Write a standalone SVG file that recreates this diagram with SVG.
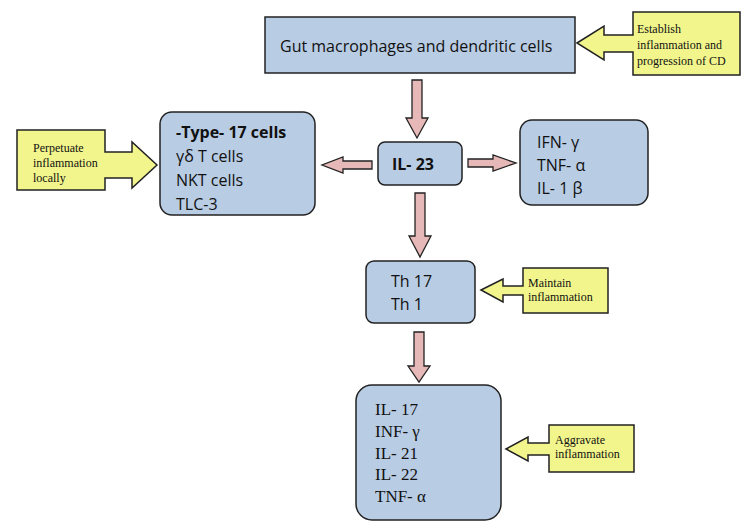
<svg xmlns="http://www.w3.org/2000/svg" width="750" height="532" viewBox="0 0 750 532">
<style>
.b{fill:#b8cce4;stroke:#222;stroke-width:1.5}
.y{fill:#f2f58c;stroke:#222;stroke-width:1.5}
.a{fill:#e6b8b7;stroke:#222;stroke-width:1.3}
.s{font-family:"Open Sans","Liberation Sans",sans-serif;font-size:16px;fill:#111}
.r{font-family:"Liberation Serif",serif;font-size:12px;fill:#111}
.rb{font-family:"Liberation Serif",serif;font-size:17px;fill:#111}
</style>
<rect width="750" height="532" fill="#fff"/>
<g id="gut"><rect class="b" x="265" y="17" width="310" height="56"/><text class="s" x="280" y="52">Gut macrophages and dendritic cells</text></g>
<g id="establish"><path class="y" d="M577,43 L604,26 L604,35 L633,35 L633,12 L740,12 L740,75 L633,75 L633,52 L604,52 L604,60 Z"/><text class="r" x="637" y="33">Establish</text><text class="r" x="637" y="49">inflammation and</text><text class="r" x="637" y="65">progression of CD</text></g>
<g id="type17"><rect class="b" x="160" y="112" width="155" height="103" rx="12"/><text class="s" x="176" y="138" font-weight="bold">-Type- 17 cells</text><text class="s" x="176" y="162">γδ T cells</text><text class="s" x="176" y="186">NKT cells</text><text class="s" x="176" y="210">TLC-3</text></g>
<g id="perpetuate"><path class="y" d="M17,130 L105,130 L105,152 L132,152 L132,142 L157,165 L132,188 L132,178 L105,178 L105,190 L17,190 Z"/><text class="r" x="33" y="152">Perpetuate</text><text class="r" x="33" y="167">inflammation</text><text class="r" x="33" y="182">locally</text></g>
<g id="il23"><rect class="b" x="378" y="142" width="84" height="43" rx="7"/><text class="s" x="392" y="170" font-weight="bold">IL- 23</text></g>
<g id="ifn"><rect class="b" x="520" y="120" width="128" height="85" rx="12"/><text class="s" x="537" y="148">IFN- γ</text><text class="s" x="537" y="171">TNF- α</text><text class="s" x="537" y="194">IL- 1 β</text></g>
<g id="th"><rect class="b" x="366" y="261" width="109" height="62" rx="8"/><text class="s" x="391" y="287">Th 17</text><text class="s" x="391" y="310">Th 1</text></g>
<g id="maintain"><path class="y" d="M481,290 L503,279 L503,286 L523,286 L523,268 L608,268 L608,313 L523,313 L523,295 L503,295 L503,302 Z"/><text class="r" x="528" y="287">Maintain</text><text class="r" x="528" y="301">inflammation</text></g>
<g id="cyto"><rect class="b" x="356" y="385" width="145" height="135" rx="16"/><text class="rb" x="375" y="415">IL- 17</text><text class="rb" x="375" y="437">INF- γ</text><text class="rb" x="375" y="459">IL- 21</text><text class="rb" x="375" y="480">IL- 22</text><text class="rb" x="375" y="502">TNF- α</text></g>
<g id="aggravate"><path class="y" d="M506,449 L528,437 L528,443 L549,443 L549,425 L634,425 L634,472 L549,472 L549,455 L528,455 L528,461 Z"/><text class="r" x="555" y="444">Aggravate</text><text class="r" x="555" y="458">inflammation</text></g>
<g id="connectors">
<path class="a" d="M412,80 L422,80 L422,118 L428,118 L417,138 L406,118 L412,118 Z"/>
<path class="a" d="M372,161 L343,161 L343,157 L322,165 L343,173 L343,169 L372,169 Z"/>
<path class="a" d="M468,159 L493,159 L493,155 L516,163 L493,171 L493,167 L468,167 Z"/>
<path class="a" d="M415,193 L425,193 L425,236 L431,236 L420,257 L409,236 L415,236 Z"/>
<path class="a" d="M414,332 L424,332 L424,366 L430,366 L419,382 L408,366 L414,366 Z"/>
</g>
</svg>
